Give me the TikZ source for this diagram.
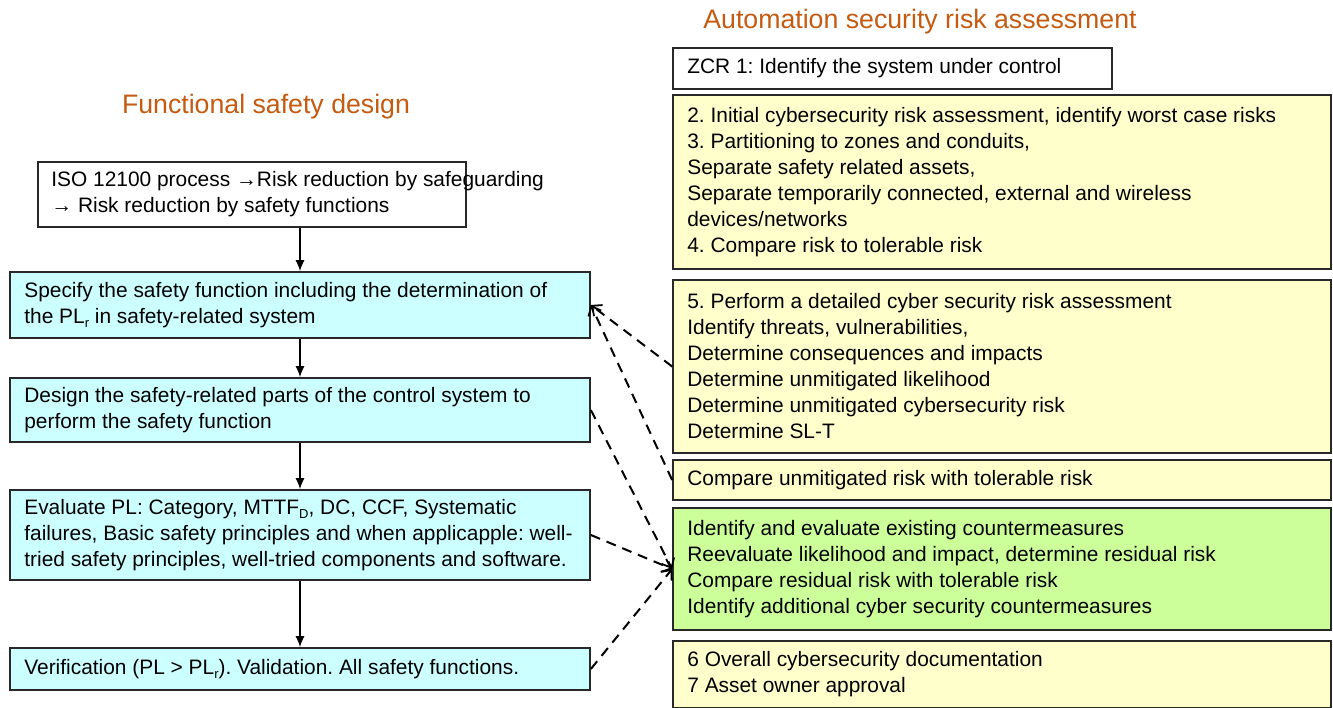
\documentclass[tikz,border=0pt]{standalone}
\usepackage{fontspec}
\setmainfont{Liberation Sans}
\usetikzlibrary{arrows.meta,calc}
\definecolor{titleorange}{RGB}{197,90,17}
\definecolor{cyanfill}{RGB}{204,255,255}
\definecolor{yellowfill}{RGB}{255,255,204}
\definecolor{greenfill}{RGB}{204,255,153}
\definecolor{boxline}{RGB}{40,40,40}
\newcommand\mysub[1]{\raisebox{-0.35ex}{\fontsize{13}{13}\selectfont #1}}
\tikzset{
  box/.style={draw=boxline, line width=1.7pt, rectangle, inner sep=0pt},
  leftbox/.style={box, fill=cyanfill, minimum width=580pt},
  rightbox/.style={box, fill=yellowfill, minimum width=658pt},
  boxtext/.style={anchor=west, align=left, inner sep=0pt,
    font=\fontsize{20.9}{26}\selectfont\frenchspacing},
  titletext/.style={text=titleorange, font=\fontsize{26.7}{30}\selectfont, inner sep=0pt},
  flow/.style={-{Latex[length=11pt,width=9pt]}, line width=1.4pt, black},
  link/.style={-{Straight Barb[length=8pt,width=14pt,line width=1.8pt]}, line width=2pt, black,
    dash pattern=on 10pt off 7pt}
}
\begin{document}
\begin{tikzpicture}[x=1pt,y=-1pt]
\useasboundingbox (0,0) rectangle (1333,707);
\fill[white] (0,0) rectangle (1333,707);

% titles
\node[titletext] (t1) at (266,107) {Functional safety design};
\node[titletext] (t2) at (920,22) {Automation security risk assessment};

% left column
\node[box, fill=white, minimum width=428pt, minimum height=65pt] (iso) at (252,194.5) {};
\node[boxtext] (isot) at ([xshift=14pt]iso.west)
  {ISO 12100 process \textrightarrow Risk reduction by safeguarding\\\textrightarrow{} Risk reduction by safety functions};
\node[leftbox, minimum height=66pt] (spec) at (300,305) {};
\node[boxtext] (spect) at ([xshift=15pt]spec.west)
  {Specify the safety function including the determination of\\the PL\mysub{r} in safety-related system};
\node[leftbox, minimum height=64pt] (des) at (300,410) {};
\node[boxtext] (dest) at ([xshift=15pt]des.west)
  {Design the safety-related parts of the control system to\\perform the safety function};
\node[leftbox, minimum height=90pt] (eval) at (300,535) {};
\node[boxtext] (evalt) at ([xshift=15pt]eval.west)
  {Evaluate PL: Category, MTTF\mysub{D}, DC, CCF, Systematic\\failures, Basic safety principles and when applicapple: well-\\tried safety principles, well-tried components and software.};
\node[leftbox, minimum height=42pt] (ver) at (300,669) {};
\node[boxtext] (vert) at ([xshift=15pt]ver.west)
  {Verification (PL > PL\mysub{r}). Validation. All safety functions.};

\draw[flow] (iso.south -| spec.north) -- (spec.north);
\draw[flow] (spec.south) -- (des.north);
\draw[flow] (des.south) -- (eval.north);
\draw[flow] (eval.south) -- (ver.north);

% right column
\node[box, fill=white, minimum width=439pt, minimum height=41pt] (zcr) at (892.5,68.5) {};
\node[boxtext] (zcrt) at ([xshift=15pt]zcr.west) {ZCR 1: Identify the system under control};
\node[rightbox, minimum height=174pt] (r1) at (1002,182) {};
\node[boxtext] (r1t) at ([xshift=15pt]r1.west)
  {2. Initial cybersecurity risk assessment, identify worst case risks\\3. Partitioning to zones and conduits,\\Separate safety related assets,\\Separate temporarily connected, external and wireless\\devices/networks\\4. Compare risk to tolerable risk};
\node[rightbox, minimum height=173pt] (r2) at (1002,366.5) {};
\node[boxtext] (r2t) at ([xshift=15pt]r2.west)
  {5. Perform a detailed cyber security risk assessment\\Identify threats, vulnerabilities,\\Determine consequences and impacts\\Determine unmitigated likelihood\\Determine unmitigated cybersecurity risk\\Determine SL-T};
\node[rightbox, minimum height=40pt] (cmp) at (1002,480) {};
\node[boxtext] (cmpt) at ([xshift=15pt]cmp.west) {Compare unmitigated risk with tolerable risk};
\node[rightbox, fill=greenfill, minimum height=122pt] (grn) at (1002,569) {};
\node[boxtext] (grnt) at ([xshift=15pt]grn.west)
  {Identify and evaluate existing countermeasures\\Reevaluate likelihood and impact, determine residual risk\\Compare residual risk with tolerable risk\\Identify additional cyber security countermeasures};
\node[rightbox, minimum height=67pt] (doc) at (1002,674.5) {};
\node[boxtext] (doct) at ([xshift=15pt]doc.west)
  {6 Overall cybersecurity documentation\\7 Asset owner approval};

% dashed links
\draw[link] (r2.west) -- (spec.east);
\draw[link] (cmp.west) -- (spec.east);
\draw[link] (des.east) -- (grn.west);
\draw[link] (eval.east) -- (grn.west);
\draw[link] (ver.east) -- (grn.west);
\end{tikzpicture}
\end{document}
